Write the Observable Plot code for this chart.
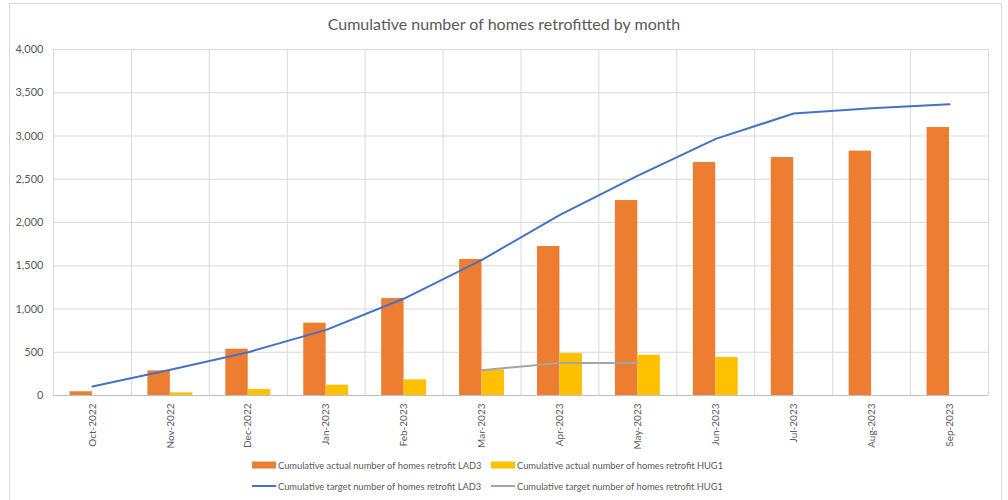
<!DOCTYPE html>
<html><head><meta charset="utf-8">
<script src="https://cdn.jsdelivr.net/npm/d3@7"></script>
<script src="https://cdn.jsdelivr.net/npm/@observablehq/plot@0.6"></script>
<style>
body{margin:0;background:#fff;font-family:Lato,"Open Sans",sans-serif;width:1008px;height:500px;overflow:hidden;position:relative;}
#frame{position:absolute;left:9px;top:3px;width:991px;height:520px;border:1px solid #D9D9D9;}
#title{position:absolute;left:0;width:1008px;top:14px;text-align:center;font-size:16px;color:#595959;}
#chart{position:absolute;left:0;top:35px;}
.leg{position:absolute;font-size:9.3px;color:#595959;display:flex;align-items:center;white-space:nowrap;}
.leg svg{margin-right:2px;}
</style></head><body>
<div id="frame"></div>
<div id="title">Cumulative number of homes retrofitted by month</div>
<div id="chart"></div>
<div id="legend"></div>
<script>
const months = ["Oct-2022","Nov-2022","Dec-2022","Jan-2023","Feb-2023","Mar-2023","Apr-2023","May-2023","Jun-2023","Jul-2023","Aug-2023","Sep-2023"];
const lad3Actual = [43,285,535,836,1121,1572,1723,2254,2694,2751,2825,3098];
const hug1Actual = [0,31,69,119,181,297,485,466,439,null,null,null];
const lad3Target = [104,297,501,759,1121,1568,2089,2543,2967,3260,3321,3368];
const hug1Target = [null,null,null,null,null,293,375,375,null,null,null,null];
const yTicks = [0,500,1000,1500,2000,2500,3000,3500,4000];
const seriesNames = [
  "Cumulative actual number of homes retrofit LAD3",
  "Cumulative actual number of homes retrofit HUG1",
  "Cumulative target number of homes retrofit LAD3",
  "Cumulative target number of homes retrofit HUG1"
];
const colors = ["#ED7D31","#FFC000","#4472C4","#A5A5A5"];

const rows = months.map((m,i)=>({month:m, lad3:lad3Actual[i], hug1:hug1Actual[i], lad3T:lad3Target[i], hug1T:hug1Target[i]}));

const W = 1008, mL = 53, mR = 20;
const bw = (W - mL - mR) / months.length;

const chart = Plot.plot({
  width: W, height: 420,
  marginLeft: mL, marginRight: mR, marginTop: 14, marginBottom: 60,
  style: {fontFamily: "Lato, 'Open Sans', sans-serif", background: "transparent"},
  x: {type: "band", domain: months, padding: 0, round: false, label: null},
  y: {domain: [0, 4000], label: null},
  marks: [
    Plot.ruleY(yTicks, {stroke: "#D9D9D9", strokeWidth: 1}),
    Plot.ruleX(months, {x: d => d, dx: -bw/2, stroke: "#D9D9D9"}),
    Plot.ruleX([months[months.length-1]], {x: d => d, dx: bw/2, stroke: "#D9D9D9"}),
    Plot.barY(rows, {x: "month", y: "lad3", fill: colors[0], insetLeft: 16.5, insetRight: 39}),
    Plot.barY(rows.filter(d => d.hug1 != null && d.hug1 > 0), {x: "month", y: "hug1", fill: colors[1], insetLeft: 39, insetRight: 16.5}),
    Plot.ruleY([0], {stroke: "#BFBFBF"}),
    Plot.lineY(rows, {x: "month", y: "lad3T", stroke: colors[2], strokeWidth: 2}),
    Plot.lineY(rows.filter(d => d.hug1T != null), {x: "month", y: "hug1T", stroke: colors[3], strokeWidth: 2}),
    Plot.axisY(yTicks, {tickSize: 0, tickPadding: 10, tickFormat: d3.format(","), fontSize: 11, color: "#595959", label: null}),
    Plot.axisX({tickSize: 0, tickRotate: -90, tickPadding: 8, fontSize: 10, color: "#595959", label: null})
  ]
});
document.getElementById("chart").appendChild(chart);

// legend
const legend = document.getElementById("legend");
const pos = [[252,458],[491,458],[252,479],[491,479]];
seriesNames.forEach((name,i)=>{
  const div = document.createElement("div");
  div.className = "leg";
  div.style.left = pos[i][0] + "px";
  div.style.top = pos[i][1] + "px";
  const sw = i < 2
    ? `<svg width="24" height="14"><rect x="0" y="3.5" width="24" height="7" fill="${colors[i]}"/></svg>`
    : `<svg width="24" height="14"><line x1="0" x2="24" y1="7" y2="7" stroke="${colors[i]}" stroke-width="2"/></svg>`;
  div.innerHTML = sw + `<span>${name}</span>`;
  legend.appendChild(div);
});
</script>
</body></html>
